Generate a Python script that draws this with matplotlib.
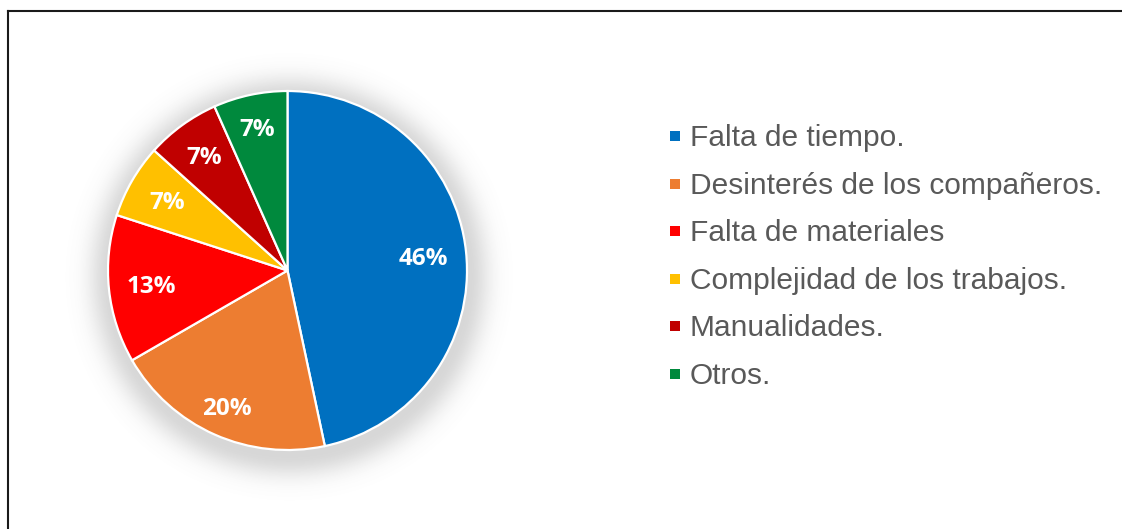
import numpy as np
import matplotlib
matplotlib.use("Agg")
import matplotlib.pyplot as plt
from matplotlib.patches import Rectangle
from matplotlib.lines import Line2D

# ---- data ----
categories = ["Falta de tiempo.", "Desinterés de los compañeros.", "Falta de materiales",
              "Complejidad de los trabajos.", "Manualidades.", "Otros."]
counts = [7, 3, 2, 1, 1, 1]
pct_labels = ["46%", "20%", "13%", "7%", "7%", "7%"]
colors = ["#0070C0", "#ED7D31", "#FF0000", "#FFC000", "#C00000", "#00893D"]

W, H = 1122, 529
DPI = 100
fig = plt.figure(figsize=(W / DPI, H / DPI), dpi=DPI)
fig.patch.set_facecolor("white")

# pie geometry (pixels)
cx, cy, R = 287.5, 270.5, 179.5
lim = 1.3
half = lim * R
ax = fig.add_axes([(cx - half) / W, (H - cy - half) / H, 2 * half / W, 2 * half / H])
ax.set_xlim(-lim, lim)
ax.set_ylim(-lim, lim)
ax.set_aspect("equal")
ax.axis("off")

# soft shadow / glow behind the pie
n = 600
g = np.linspace(-lim, lim, n)
X, Y = np.meshgrid(g, g)
d = np.sqrt((X - 0.01) ** 2 + (Y + 0.035) ** 2)
alpha = np.where(d <= 1.0, 0.28, 0.28 * np.exp(-((d - 1.0) / 0.12) ** 2))
img = np.zeros((n, n, 4))
img[..., 0:3] = 0.45
img[..., 3] = alpha
ax.imshow(img, extent=(-lim, lim, -lim, lim), origin="lower", zorder=0, interpolation="bilinear")

wedges, _ = ax.pie(
    counts, colors=colors, startangle=90, counterclock=False, radius=1.0,
    wedgeprops=dict(edgecolor="white", linewidth=1.6),
)
for w in wedges:
    w.set_zorder(2)

# percentage labels placed along each wedge's mid-angle
label_r = [0.763, 0.827, 0.763, 0.775, 0.794, 0.817]
cap_half = 8.5 / R
for w, txt, r in zip(wedges, pct_labels, label_r):
    ang = np.deg2rad((w.theta1 + w.theta2) / 2)
    x, y = r * np.cos(ang), r * np.sin(ang)
    ax.text(x, y - cap_half, txt, ha="center", va="baseline", color="white",
            fontsize=17.5, fontweight="bold", family="Open Sans", zorder=3)
ax.set_xlim(-lim, lim)
ax.set_ylim(-lim, lim)

# legend (manual placement)
base0 = 146.0
step = 47.6
for i, (lab, col) in enumerate(zip(categories, colors)):
    b = base0 + i * step
    yc = b - 10.0
    fig.add_artist(Rectangle((670 / W, (H - yc - 5) / H), 10 / W, 10 / H,
                             transform=fig.transFigure, facecolor=col, edgecolor="none"))
    fig.text(690 / W, (H - b) / H, lab, fontsize=21.5, color="#595959",
             family="Liberation Sans", va="baseline", ha="left")

# frame lines (left and top)
fig.add_artist(Line2D([7.5 / W, 7.5 / W], [0, (H - 11) / H], transform=fig.transFigure,
                      color="#1a1a1a", linewidth=1.5))
fig.add_artist(Line2D([7.5 / W, 1.0], [(H - 11) / H, (H - 11) / H], transform=fig.transFigure,
                      color="#1a1a1a", linewidth=1.5))

fig.savefig("out.png", dpi=DPI)
